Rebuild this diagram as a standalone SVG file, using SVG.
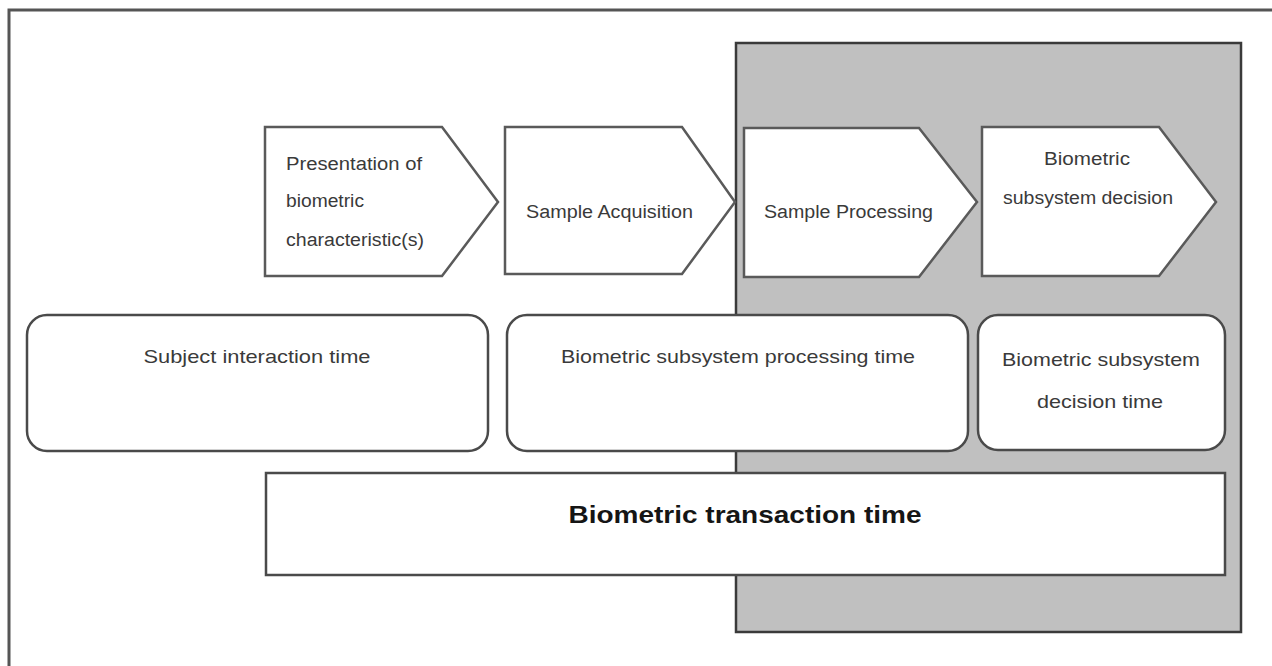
<svg xmlns="http://www.w3.org/2000/svg" width="1272" height="666" viewBox="0 0 1272 666">
  <style>
    .frame { fill: #ffffff; stroke: #555555; stroke-width: 3; }
    .zone { fill: #c0c0c0; stroke: #3a3a3a; stroke-width: 2.5; }
    .step { fill: #ffffff; stroke: #5a5a5a; stroke-width: 2.5; }
    .span { fill: #ffffff; stroke: #4a4a4a; stroke-width: 2.5; }
    .lbl { font-family: "Liberation Sans", Arial, sans-serif; font-size: 18px; fill: #3a3a3a; }
    .row { font-size: 19px; }
    .mid { text-anchor: middle; }
    .big { font-family: "Liberation Sans", Arial, sans-serif; font-size: 24px; font-weight: bold; fill: #151515; text-anchor: middle; }
  </style>

  <rect width="1272" height="666" fill="#ffffff"/>
  <!-- outer frame, running off the right and bottom edges -->
  <rect class="frame" x="9" y="10" width="1300" height="700"/>
  <!-- shaded decision zone -->
  <rect id="zone" class="zone" x="736" y="43" width="505" height="589"/>

  <g id="connectors"></g>

  <!-- process steps -->
  <g id="step-presentation">
    <path class="step" d="M265,127 H442 L498,202 L442,276 H265 Z"/>
    <text class="lbl" x="286" y="170" textLength="136" lengthAdjust="spacingAndGlyphs">Presentation of</text>
    <text class="lbl" x="286" y="207" textLength="78" lengthAdjust="spacingAndGlyphs">biometric</text>
    <text class="lbl" x="286" y="246" textLength="138" lengthAdjust="spacingAndGlyphs">characteristic(s)</text>
  </g>
  <g id="step-acquisition">
    <path class="step" d="M505,127 H682 L735,202 L682,274 H505 Z"/>
    <text class="lbl" x="526" y="218" textLength="167" lengthAdjust="spacingAndGlyphs">Sample Acquisition</text>
  </g>
  <g id="step-processing">
    <path class="step" d="M744,128 H919 L977,202 L919,277 H744 Z"/>
    <text class="lbl" x="764" y="218" textLength="169" lengthAdjust="spacingAndGlyphs">Sample Processing</text>
  </g>
  <g id="step-decision">
    <path class="step" d="M982,127 H1159 L1216,202 L1159,276 H982 Z"/>
    <text class="lbl mid" x="1087" y="165" textLength="86" lengthAdjust="spacingAndGlyphs">Biometric</text>
    <text class="lbl mid" x="1088" y="204" textLength="170" lengthAdjust="spacingAndGlyphs">subsystem decision</text>
  </g>

  <!-- time spans -->
  <g id="span-interaction">
    <rect class="span" x="27" y="315" width="461" height="136" rx="20"/>
    <text class="lbl row mid" x="257" y="363" textLength="227" lengthAdjust="spacingAndGlyphs">Subject interaction time</text>
  </g>
  <g id="span-processing">
    <rect class="span" x="507" y="315" width="461" height="136" rx="20"/>
    <text class="lbl row mid" x="738" y="363" textLength="354" lengthAdjust="spacingAndGlyphs">Biometric subsystem processing time</text>
  </g>
  <g id="span-decision">
    <rect class="span" x="978" y="315" width="247" height="135" rx="20"/>
    <text class="lbl row mid" x="1101" y="366" textLength="198" lengthAdjust="spacingAndGlyphs">Biometric subsystem</text>
    <text class="lbl row mid" x="1100" y="408" textLength="126" lengthAdjust="spacingAndGlyphs">decision time</text>
  </g>
  <g id="span-transaction">
    <rect class="span" x="266" y="473" width="959" height="102"/>
    <text class="big" x="745" y="523" textLength="353" lengthAdjust="spacingAndGlyphs">Biometric transaction time</text>
  </g>
</svg>
